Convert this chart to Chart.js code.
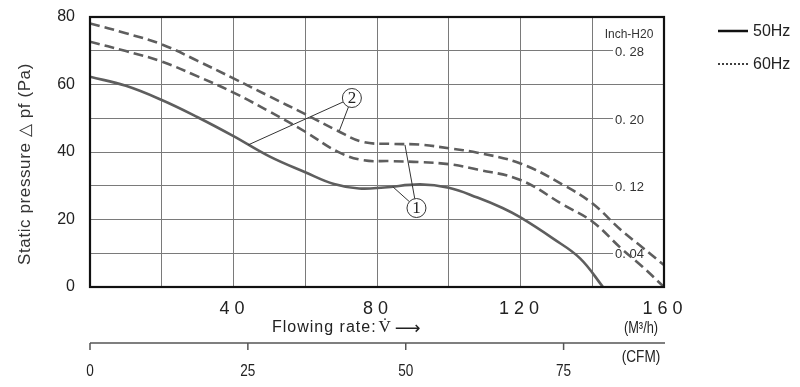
<!DOCTYPE html>
<html>
<head>
<meta charset="utf-8">
<script src="https://cdn.jsdelivr.net/npm/chart.js@4.4.0/dist/chart.umd.min.js"></script>
<style>
html,body{margin:0;padding:0;background:#fff;}
canvas{display:block;}
</style>
</head>
<body>
<canvas id="c" width="800" height="387"></canvas>
<script>
// ---- data ----
const rate50 = [0,10,20,30,40,50,60,68,75,82,92,100,108,115,120,129,136.6,143];
const pa50   = [62.3,59.6,55.4,50.3,44.7,38.7,34.0,30.5,29.2,29.5,30.4,29.4,26.5,23.4,20.6,14.4,8.5,0];

const rate60a = [0,10,20,30,40,50,60,69,76,84,92,100,108,120,132,140,148,154,160];
const pa60a   = [78.1,75.2,71.9,67.0,61.8,56.5,51.2,46.3,43.0,42.4,42.2,41.1,39.8,36.6,30.2,24.8,16.9,11.7,6.5];

const rate60b = [0,10,20,30,40,50,60,69,76,84,92,100,108,120,132,140,148,154,160];
const pa60b   = [72.7,69.9,66.8,62.4,57.6,52.0,46.0,40.1,37.6,37.3,37.0,36.4,34.8,31.7,24.3,19.4,11.5,6.0,0];

const yTickLabels = [0,20,40,60,80];
const xTickLabels = [40,80,120,160];
const cfmTickLabels = [0,25,50,75];
const inchValuesPa = [69.7,49.8,29.9,10.0];
const inchLabels = ['0. 28','0. 20','0. 12','0. 04'];
const legendLabels = ['50Hz','60Hz'];
const annotations = [
  {label:'1', at:[91.0,23.4], to:[[84.4,29.7],[87.8,42.1]]},
  {label:'2', at:[73.0,56.0], to:[[44.1,42.1],[69.5,46.3]]}
];

const pts = (xs, ys) => xs.map((x,i)=>({x, y: ys[i]}));
const SANS = '"Liberation Sans", Arial, Helvetica, sans-serif';
const SERIF = '"Liberation Serif", "DejaVu Serif", serif';

function narrowText(ctx, text, x, y, sx) {
  ctx.save();
  ctx.translate(x, y);
  ctx.scale(sx, 1);
  ctx.fillText(text, 0, 0);
  ctx.restore();
}

const deco = {
  id: 'deco',
  beforeDatasetsDraw(chart) {
    const {ctx, chartArea: a, scales: {y}} = chart;
    ctx.save();
    ctx.font = '13px ' + SANS;
    ctx.textBaseline = 'middle';
    ctx.textAlign = 'left';
    inchValuesPa.forEach((v,i)=>{
      const py = y.getPixelForValue(v);
      ctx.fillStyle = '#fff';
      ctx.fillRect(a.right - 51, py - 3, 50, 6);
      ctx.fillStyle = '#333';
      ctx.fillText(inchLabels[i], a.right - 49, py + 1);
    });
    ctx.font = '12px ' + SANS;
    ctx.textAlign = 'center';
    ctx.fillStyle = '#333';
    ctx.fillText('Inch-H20', a.right - 35, y.getPixelForValue(74.7));
    ctx.restore();
  },
  afterDatasetsDraw(chart) {
    const {ctx, chartArea: a, scales: {x, y, cfm}} = chart;
    ctx.save();
    ctx.strokeStyle = '#111';
    ctx.lineWidth = 2.2;
    ctx.strokeRect(a.left, a.top, a.right - a.left, a.bottom - a.top);

    ctx.fillStyle = '#222';
    ctx.font = '16px ' + SANS;
    ctx.textAlign = 'right';
    ctx.textBaseline = 'middle';
    yTickLabels.forEach(v => ctx.fillText(String(v), a.left - 15, y.getPixelForValue(v)));

    ctx.font = '18px ' + SANS;
    ctx.textAlign = 'center';
    ctx.letterSpacing = '5px';
    xTickLabels.forEach(v => ctx.fillText(String(v), x.getPixelForValue(v) + 1, a.bottom + 22));
    ctx.letterSpacing = '0px';

    ctx.textAlign = 'left';
    ctx.font = '16px ' + SANS;
    ctx.letterSpacing = '1px';
    const fx = 272, fy = a.bottom + 41;
    ctx.fillStyle = '#222';
    ctx.fillText('Flowing rate:', fx, fy);
    const w1 = ctx.measureText('Flowing rate:').width;
    ctx.letterSpacing = '0px';
    ctx.font = '17px ' + SERIF;
    ctx.fillText('V\u0307', fx + w1 + 2, fy);
    const w2 = ctx.measureText('V\u0307').width;
    ctx.font = '18px "DejaVu Sans", sans-serif';
    ctx.fillText('\u27F6', fx + w1 + w2 + 6, fy + 1);

    ctx.font = '16px ' + SANS;
    ctx.textAlign = 'center';
    narrowText(ctx, '(M\u00B3/h)', a.right - 23, a.bottom + 42, 0.8);

    const ly = a.bottom + 56;
    ctx.strokeStyle = '#555';
    ctx.lineWidth = 1.5;
    ctx.beginPath();
    ctx.moveTo(cfm.left, ly);
    ctx.lineTo(cfm.right + 1, ly);
    ctx.stroke();
    ctx.font = '17px ' + SANS;
    cfmTickLabels.forEach(v => {
      const px = cfm.getPixelForValue(v);
      ctx.beginPath();
      ctx.moveTo(px, ly);
      ctx.lineTo(px, ly + 7);
      ctx.stroke();
      narrowText(ctx, String(v), px, ly + 28, 0.8);
    });
    ctx.font = '17px ' + SANS;
    narrowText(ctx, '(CFM)', a.right - 23, ly + 14, 0.8);

    ctx.save();
    ctx.translate(25, 164);
    ctx.rotate(-Math.PI/2);
    ctx.font = '17px ' + SANS;
    ctx.letterSpacing = '0.6px';
    ctx.textAlign = 'center';
    ctx.fillStyle = '#333';
    ctx.fillText('Static pressure \u25B3 pf (Pa)', 0, 0);
    ctx.restore();

    ctx.strokeStyle = '#333';
    ctx.lineWidth = 1;
    annotations.forEach(an => {
      const cx = x.getPixelForValue(an.at[0]), cy = y.getPixelForValue(an.at[1]);
      const r = 9.5;
      an.to.forEach(t => {
        const ex = x.getPixelForValue(t[0]), ey = y.getPixelForValue(t[1]);
        const dx = ex - cx, dy = ey - cy, d = Math.hypot(dx, dy);
        ctx.beginPath();
        ctx.moveTo(cx + dx/d*r, cy + dy/d*r);
        ctx.lineTo(ex, ey);
        ctx.stroke();
      });
      ctx.beginPath();
      ctx.arc(cx, cy, r, 0, Math.PI*2);
      ctx.fillStyle = '#fff';
      ctx.fill();
      ctx.stroke();
      ctx.fillStyle = '#222';
      ctx.font = '17px ' + SERIF;
      ctx.textAlign = 'center';
      ctx.textBaseline = 'middle';
      ctx.fillText(an.label, cx, cy + 1);
    });

    ctx.textAlign = 'left';
    ctx.textBaseline = 'middle';
    ctx.font = '16px ' + SANS;
    ctx.fillStyle = '#222';
    ctx.strokeStyle = '#111';
    ctx.lineWidth = 2.5;
    ctx.beginPath(); ctx.moveTo(718, 31); ctx.lineTo(748, 31); ctx.stroke();
    ctx.fillText(legendLabels[0], 753, 32);
    ctx.lineWidth = 1.6;
    ctx.setLineDash([2, 2]);
    ctx.beginPath(); ctx.moveTo(718, 64); ctx.lineTo(750, 64); ctx.stroke();
    ctx.setLineDash([]);
    ctx.fillText(legendLabels[1], 753, 65);
    ctx.restore();
  }
};

const curveColor = '#5e5e5e';
const lineBase = {borderColor: curveColor, borderWidth: 2.6, pointRadius: 0, tension: 0.4, fill: false};
new Chart(document.getElementById('c'), {
  type: 'line',
  data: {
    datasets: [
      Object.assign({label: legendLabels[0], data: pts(rate50, pa50)}, lineBase),
      Object.assign({label: legendLabels[1], data: pts(rate60a, pa60a), borderDash: [10, 5]}, lineBase),
      Object.assign({label: legendLabels[1], data: pts(rate60b, pa60b), borderDash: [10, 5]}, lineBase)
    ]
  },
  options: {
    responsive: false,
    animation: false,
    devicePixelRatio: 1,
    layout: {padding: {left: 90, right: 136, top: 17, bottom: 100}},
    plugins: {legend: {display: false}, tooltip: {enabled: false}},
    scales: {
      x: {
        type: 'linear', position: 'bottom', min: 0, max: 160,
        ticks: {display: false, stepSize: 20},
        grid: {color: '#7a7a7a', lineWidth: 1, drawTicks: false},
        border: {display: false}
      },
      cfm: {
        type: 'linear', position: 'bottom', min: 0, max: 90.9, display: false
      },
      y: {
        type: 'linear', min: 0, max: 80,
        ticks: {display: false, stepSize: 10},
        grid: {color: '#7a7a7a', lineWidth: 1, drawTicks: false},
        border: {display: false}
      }
    }
  },
  plugins: [deco]
});
</script>
</body>
</html>
